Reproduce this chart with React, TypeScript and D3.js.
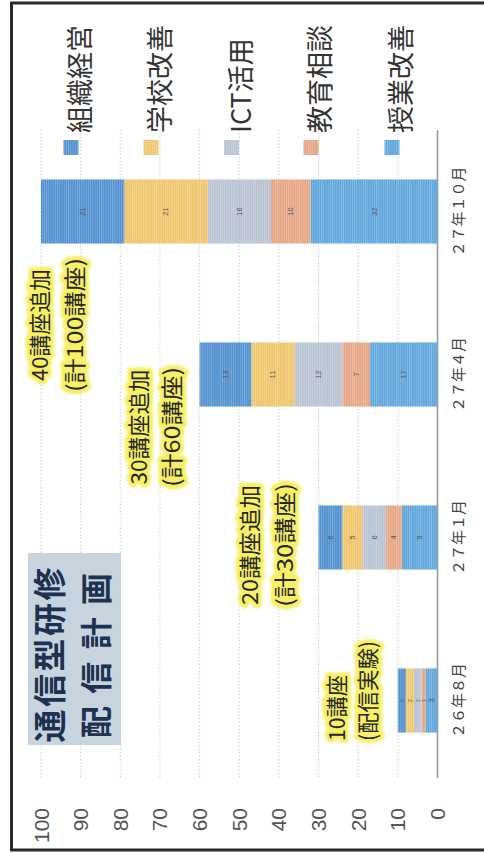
import React from 'react';
import * as d3 from 'd3';

// ---------- data ----------
const categories = ['26年8月', '27年1月', '27年4月', '27年10月'];
const categoryLabels = ['２６年８月', '２７年１月', '２７年４月', '２７年１０月'];
// stack order: bottom (near 0) -> top
const seriesKeys = ['授業改善', '教育相談', 'ICT活用', '学校改善', '組織経営'];
const jugyoKaizen = [3, 9, 17, 32];
const kyoikuSodan = [1, 4, 7, 10];
const ictKatsuyo = [2, 6, 12, 16];
const gakkoKaizen = [2, 5, 11, 21];
const soshikiKeiei = [2, 6, 13, 21];
const valueTicks = [0, 10, 20, 30, 40, 50, 60, 70, 80, 90, 100];
const legendOrder = ['組織経営', '学校改善', 'ICT活用', '教育相談', '授業改善'];
const titleLines = ['通信型研修', '配信計画'];
const annotationLines = [
  ['40講座追加', '(計100講座)'],
  ['30講座追加', '(計60講座)'],
  ['20講座追加', '(計30講座)'],
  ['10講座', '(配信実験)'],
];

const colors: Record<string, string> = {
  '組織経営': '#4f90cf',
  '学校改善': '#efc56b',
  'ICT活用': '#b8c2d1',
  '教育相談': '#e6a584',
  '授業改善': '#5ea5db',
};

const seriesValues: Record<string, number[]> = {
  '授業改善': jugyoKaizen,
  '教育相談': kyoikuSodan,
  'ICT活用': ictKatsuyo,
  '学校改善': gakkoKaizen,
  '組織経営': soshikiKeiei,
};

// ---------- layout ----------
const W = 484;
const H = 853;
const CJK = '"Noto Sans CJK JP", "Noto Sans CJK SC", sans-serif';
const LAT = '"Liberation Sans", Arial, sans-serif';

// value axis runs horizontally (rotated chart): 0 at right, 100 at left
const x = d3.scaleLinear().domain([0, 100]).range([437.5, 41]);
// categories run vertically, latest at top
const y = d3
  .scaleBand<string>()
  .domain([...categories].reverse())
  .range([130, 782])
  .paddingInner(0.607)
  .paddingOuter(0.3035);

const rows = categories.map((c, i) => {
  const r: any = { cat: c };
  seriesKeys.forEach((k) => (r[k] = seriesValues[k][i]));
  return r;
});
const stacked = d3.stack<any>().keys(seriesKeys)(rows);

// annotation placement: [value for line1, value for line2, y centre or start, anchor]
const annotationLayout: [number, number, number, number, 'middle' | 'start'][] = [
  [100.8, 92, 325, 0, 'middle'],
  [75.8, 67.4, 427, 0, 'middle'],
  [47.8, 39.0, 545, 0, 'middle'],
  [25.9, 18.0, 741, 0, 'start'],
];
const annotationLengths = [
  [112, 134],
  [115, 120],
  [120, 124],
  [66, 100],
];

const legendX = [78.5, 158.5, 239, 318.5, 399.5];

function RotText(props: {
  x: number;
  y: number;
  children: React.ReactNode;
  anchor?: string;
  size: number;
  fill?: string;
  family?: string;
  weight?: number | string;
  len?: number;
  adjust?: string;
  extra?: any;
}) {
  const { x: px, y: py, anchor = 'middle', size, fill = '#333', family = CJK, weight = 400, len, adjust = 'spacingAndGlyphs', extra = {} } = props;
  return (
    <text
      transform={`translate(${px},${py}) rotate(-90)`}
      textAnchor={anchor}
      dominantBaseline="central"
      fontSize={size}
      fill={fill}
      fontFamily={family}
      fontWeight={weight}
      {...(len ? { textLength: len, lengthAdjust: adjust } : {})}
      {...extra}
    >
      {props.children}
    </text>
  );
}

export default function App() {
  const bw = y.bandwidth();
  return (
    <svg
      width={W}
      height={H}
      viewBox={`0 0 ${W} ${H}`}
      style={{ position: 'absolute', left: 0, top: 0, background: '#ffffff' }}
    >
      <defs>
        <pattern id="stripes" width="2.2" height="4" patternUnits="userSpaceOnUse">
          <rect x="0" y="0" width="0.8" height="4" fill="#ffffff" opacity="0.28" />
        </pattern>
        <filter id="glow" x="-20%" y="-20%" width="140%" height="140%">
          <feGaussianBlur stdDeviation="1.2" />
        </filter>
      </defs>
      <rect x={0} y={0} width={W} height={H} fill="#ffffff" />

      {/* frame */}
      <path d={`M ${W + 5} 3 L 11.5 3 L 11.5 850 L ${W + 5} 850`} fill="none" stroke="#2b2b2b" strokeWidth={3} />

      {/* gridlines */}
      {valueTicks
        .filter((t) => t > 0)
        .map((t) => (
          <line key={t} x1={x(t)} x2={x(t)} y1={130} y2={778} stroke="#c4c4c4" strokeWidth={1} strokeDasharray="1.2 2.2" />
        ))}
      <line x1={x(0)} x2={x(0)} y1={130} y2={778} stroke="#9a9a9a" strokeWidth={1.6} />

      {/* bars */}
      {stacked.map((s) => (
        <g key={s.key}>
          {s.map((d, i) => {
            const x0 = x(d[1]);
            const x1 = x(d[0]);
            const yy = y(categories[i])!;
            const v = d[1] - d[0];
            return (
              <g key={i}>
                <rect x={x0} y={yy} width={x1 - x0} height={bw} fill={colors[s.key]} />
                <rect x={x0} y={yy} width={x1 - x0} height={bw} fill="url(#stripes)" />
                <RotText x={(x0 + x1) / 2} y={yy + bw / 2} size={v < 3 ? 5 : 7.5} fill="#555" family={LAT}>
                  {v}
                </RotText>
              </g>
            );
          })}
        </g>
      ))}

      {/* value tick labels */}
      {valueTicks.map((t) => (
        <RotText key={t} x={x(t)} y={808} anchor="end" size={21} fill="#555" family={LAT}>
          {t}
        </RotText>
      ))}

      {/* category labels */}
      {categories.map((c, i) => (
        <RotText key={c} x={457.5} y={y(c)! + bw / 2} size={15} fill="#444" len={categoryLabels[i].length * 15} adjust="spacing">
          {categoryLabels[i]}
        </RotText>
      ))}

      {/* legend */}
      {legendOrder.map((k, i) => (
        <g key={k}>
          <rect x={legendX[i] - 15} y={140} width={15} height={15} fill={colors[k]} />
          <rect x={legendX[i] - 15} y={140} width={15} height={15} fill="url(#stripes)" />
          <RotText x={legendX[i]} y={133} anchor="start" size={27} fill="#333">
            {k}
          </RotText>
        </g>
      ))}

      {/* title */}
      <rect x={28} y={553} width={93} height={192} fill="#c7d4de" />
      <RotText x={47.5} y={655} size={33} fill="#1d3150" weight={700} len={175} adjust="spacing">
        {titleLines[0]}
      </RotText>
      <RotText x={94} y={655.5} size={32} fill="#1d3150" weight={700} len={165} adjust="spacing">
        {titleLines[1]}
      </RotText>

      {/* annotations */}
      {annotationLines.map((lines, i) => {
        const [v1, v2, yc, , anchor] = annotationLayout[i];
        return (
          <g key={i}>
            {lines.map((t, j) => {
              const px = x(j === 0 ? v1 : v2);
              const len = annotationLengths[i][j];
              return (
                <g key={j}>
                  <RotText
                    x={px}
                    y={yc}
                    anchor={anchor}
                    size={22}
                    fill="#f7ef5c"
                    len={len}
                    extra={{ stroke: '#f7ef5c', strokeWidth: 8, strokeLinejoin: 'round', filter: 'url(#glow)', opacity: 0.95 }}
                  >
                    {t}
                  </RotText>
                  <RotText x={px} y={yc} anchor={anchor} size={22} fill="#262626" len={len}>
                    {t}
                  </RotText>
                </g>
              );
            })}
          </g>
        );
      })}
    </svg>
  );
}
